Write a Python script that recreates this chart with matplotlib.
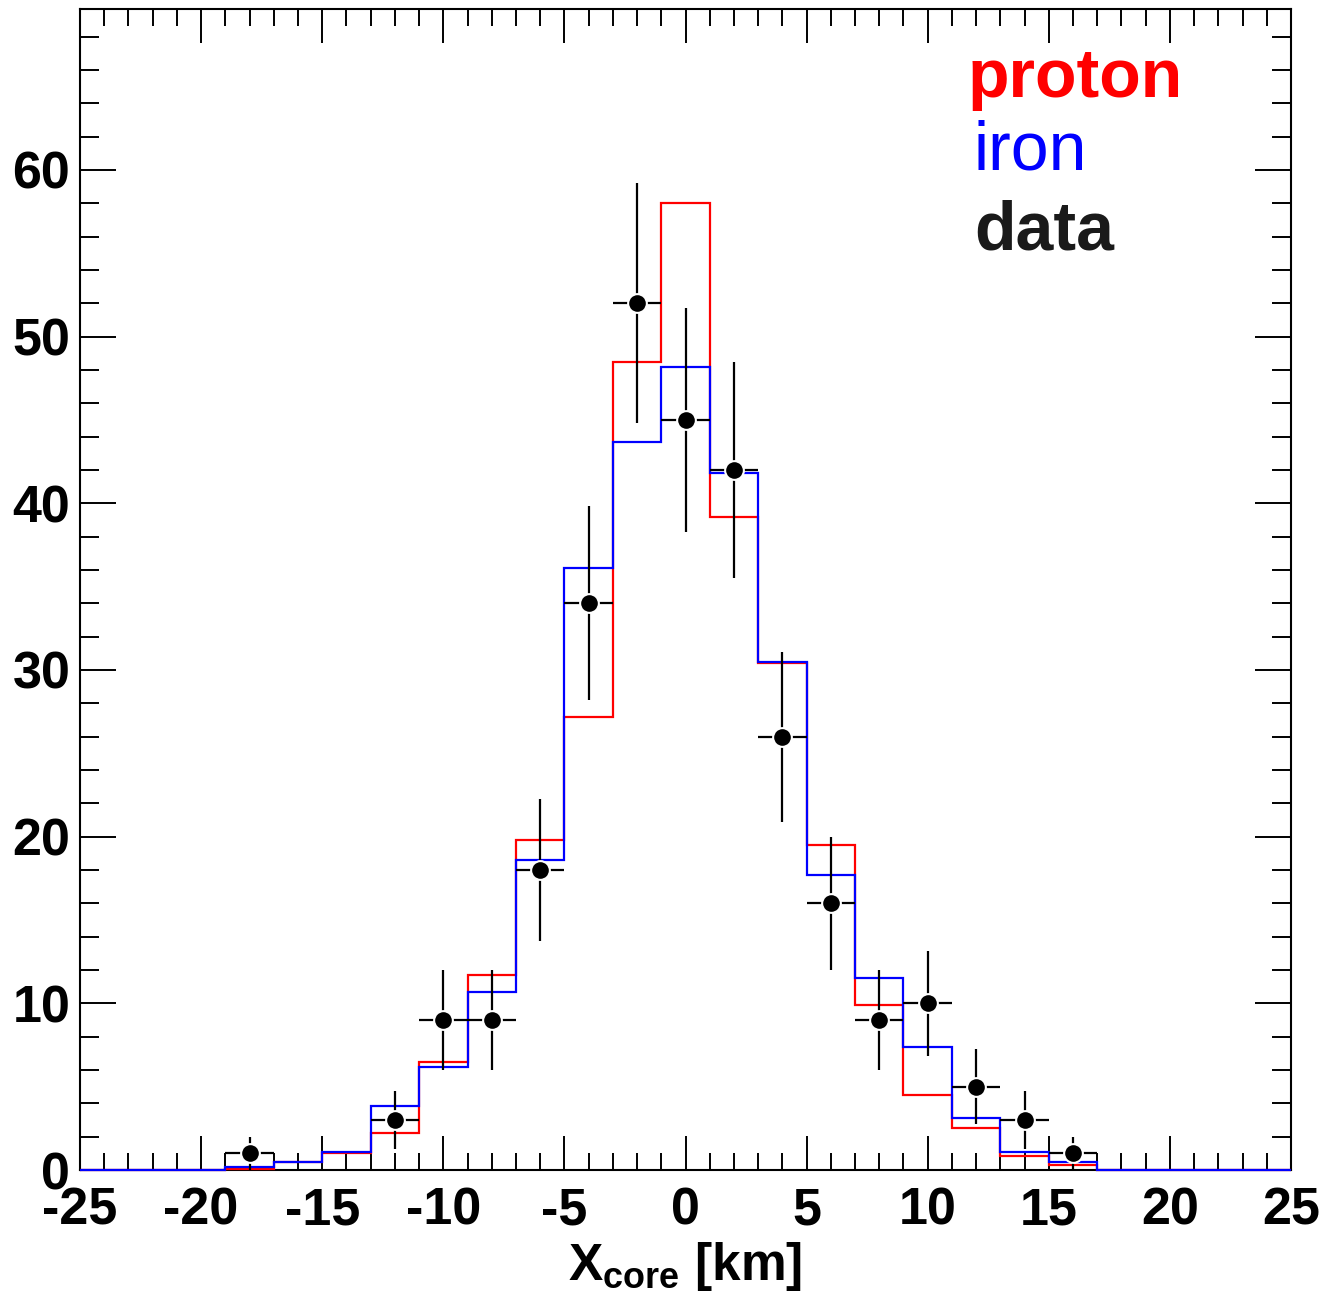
import numpy as np
import matplotlib
matplotlib.use("Agg")
import matplotlib.pyplot as plt
from matplotlib.ticker import MultipleLocator

# bin centres (width 2 km, range -25..25)
centers = [-24, -22, -20, -18, -16, -14, -12, -10, -8, -6, -4, -2, 0,
           2, 4, 6, 8, 10, 12, 14, 16, 18, 20, 22, 24]
data_counts = [0, 0, 0, 1, 0, 0, 3, 9, 9, 18, 34, 52, 45,
               42, 26, 16, 9, 10, 5, 3, 1, 0, 0, 0, 0]
proton = [0, 0, 0, 0.06, 0.45, 1.0, 2.22, 6.5, 11.7, 19.8, 27.2, 48.5, 58.0,
          39.2, 30.4, 19.5, 9.9, 4.5, 2.5, 0.86, 0.27, 0, 0, 0, 0]
iron = [0, 0, 0, 0.16, 0.5, 1.08, 3.85, 6.2, 10.7, 18.6, 36.1, 43.7, 48.2,
        41.8, 30.5, 17.7, 11.5, 7.4, 3.1, 1.05, 0.46, 0, 0, 0, 0]
bin_width = 2

plt.rcParams['font.family'] = ['Liberation Sans', 'DejaVu Sans']
plt.rcParams['axes.unicode_minus'] = False
plt.rcParams['mathtext.fontset'] = 'custom'
plt.rcParams['mathtext.bf'] = 'Liberation Sans:bold'
plt.rcParams['mathtext.rm'] = 'Liberation Sans'

W, H = 1324, 1293
fig = plt.figure(figsize=(W / 100, H / 100), dpi=100)
ax = fig.add_axes([80 / W, 123 / H, 1211 / W, 1161 / H])

centers = np.array(centers, dtype=float)
edges = np.append(centers - bin_width / 2, centers[-1] + bin_width / 2)

# model histograms drawn over the frame, like ROOT does
ax.stairs(proton, edges, color='#ff0000', lw=1.6, baseline=0,
          zorder=3, clip_on=False)
ax.stairs(iron, edges, color='#0000ff', lw=1.6, baseline=0,
          zorder=3.1, clip_on=False)

counts = np.array(data_counts, dtype=float)
m = counts > 0
ax.errorbar(centers[m], counts[m], xerr=bin_width / 2, yerr=np.sqrt(counts[m]),
            fmt='o', color='black', ms=13.5, mfc='black', mec='white', mew=1.5,
            elinewidth=1.6, capsize=0, zorder=5)

ax.set_xlim(-25, 25)
ax.set_ylim(0, 69.65)

ax.xaxis.set_major_locator(MultipleLocator(5))
ax.xaxis.set_minor_locator(MultipleLocator(1))
ax.yaxis.set_major_locator(MultipleLocator(10))
ax.yaxis.set_minor_locator(MultipleLocator(2))

ax.tick_params(axis='both', which='both', direction='in', top=True, right=True,
               width=1.4, colors='black')
ax.tick_params(axis='x', which='major', length=24.5, pad=12)
ax.tick_params(axis='x', which='minor', length=12)
ax.tick_params(axis='y', which='major', length=26, pad=7)
ax.tick_params(axis='y', which='minor', length=13.4)
for lab in ax.get_xticklabels() + ax.get_yticklabels():
    lab.set_fontsize(37.5)
    lab.set_fontweight('bold')
for sp in ax.spines.values():
    sp.set_linewidth(1.5)

fig.text(685 / W, 1 - 1280 / H, r'$\mathbf{X}_{\mathbf{core}}$ [km]',
         ha='center', va='baseline', fontsize=37, fontweight='bold')

fig.text(968 / W, 1 - 97 / H, 'proton', color='#ff0000', fontsize=49,
         fontweight='bold', va='baseline', ha='left')
fig.text(974 / W, 1 - 170 / H, 'iron', color='#0000ff', fontsize=49,
         va='baseline', ha='left')
fig.text(974 / W, 1 - 249 / H, 'data', color='#1a1a1a', fontsize=49,
         fontweight='bold', va='baseline', ha='left')

fig.savefig('out.png', dpi=100)
